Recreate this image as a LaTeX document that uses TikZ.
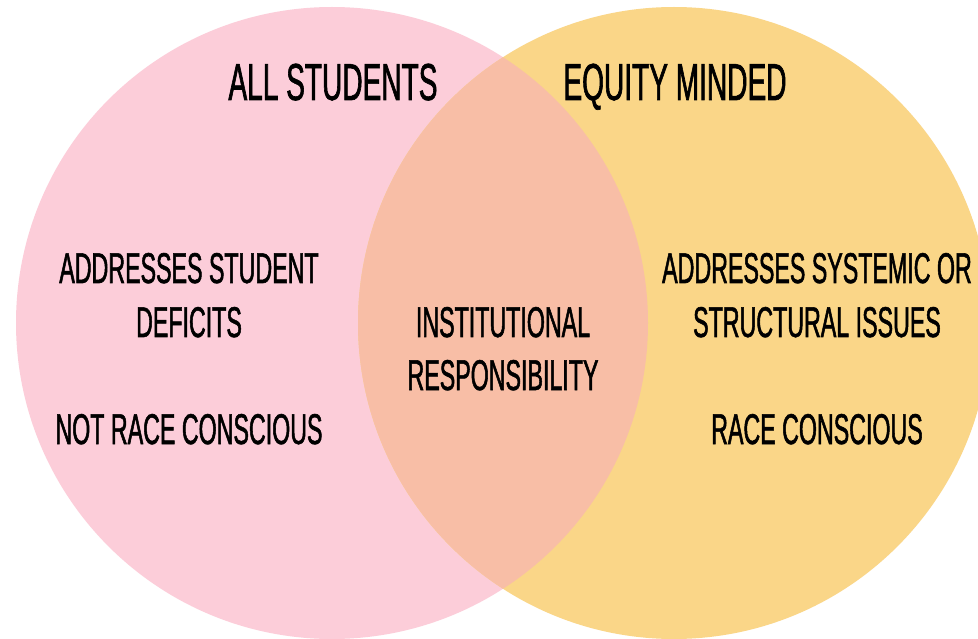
\documentclass[tikz,border=0pt]{standalone}
\usepackage{fontspec}
\newfontfamily\handfont[FakeStretch=0.54,FakeBold=1.2]{Liberation Sans}
\definecolor{pinkc}{RGB}{252,205,217}
\definecolor{yellowc}{RGB}{250,214,136}
\definecolor{overlapc}{RGB}{248,190,166}
\begin{document}
\begin{tikzpicture}[x=1pt,y=-1pt,
  bigtxt/.style={anchor=base,inner sep=0pt,font=\handfont\fontsize{52}{60}\selectfont},
  bodytxt/.style={anchor=base,inner sep=0pt,font=\handfont\fontsize{43}{54}\selectfont}]
\fill[white] (0,0) rectangle (978,639);
\useasboundingbox (0,0) rectangle (978,639);
\begin{scope}
\clip (0,0) rectangle (978,639);
\fill[pinkc] (332,323) circle (316);
\fill[yellowc] (674,323) circle (316);
\begin{scope}
\clip (332,323) circle (316);
\fill[overlapc] (674,323) circle (316);
\end{scope}
\end{scope}
\node[bigtxt] (all) at (333,100) {ALL STUDENTS};
\node[bigtxt] (equity) at (675,100) {EQUITY MINDED};
\node[bodytxt] (l1) at (189,283) {ADDRESSES STUDENT};
\node[bodytxt] (l2) at (189,337) {DEFICITS};
\node[bodytxt] (l3) at (189,444) {NOT RACE CONSCIOUS};
\node[bodytxt] (m1) at (503,337) {INSTITUTIONAL};
\node[bodytxt] (m2) at (503,390) {RESPONSIBILITY};
\node[bodytxt] (r1) at (817,283) {ADDRESSES SYSTEMIC OR};
\node[bodytxt] (r2) at (817,337) {STRUCTURAL ISSUES};
\node[bodytxt] (r3) at (817,444) {RACE CONSCIOUS};
\end{tikzpicture}
\end{document}
